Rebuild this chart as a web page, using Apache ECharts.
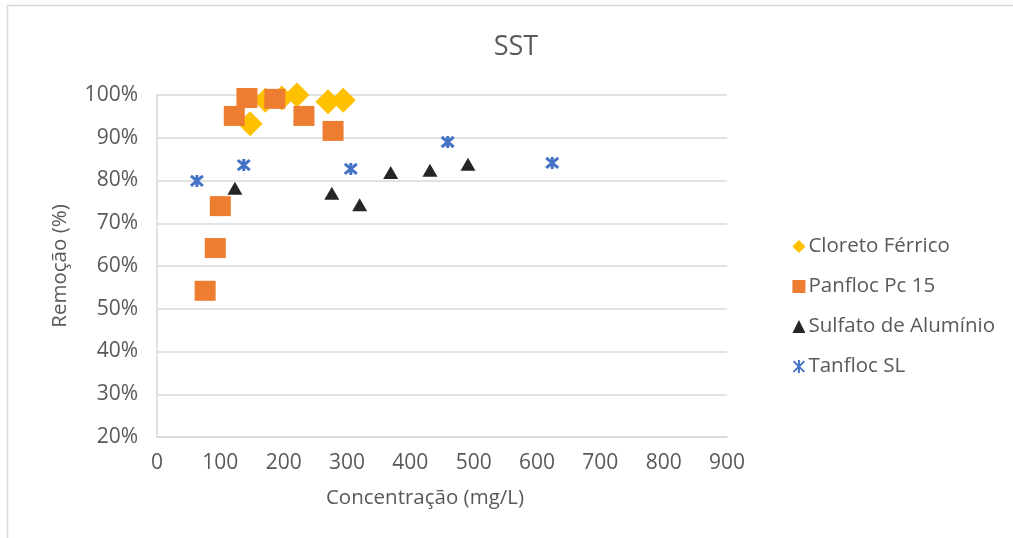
<!DOCTYPE html>
<html>
<head>
<meta charset="utf-8">
<script src="https://cdn.jsdelivr.net/npm/echarts@6/dist/echarts.min.js"></script>
<style>
  html, body { margin: 0; padding: 0; background: #fff; }
  #chart { width: 1013px; height: 538px; }
</style>
</head>
<body>
<div id="chart"></div>
<script>
// Concentration (mg/L) and removal (%) for each coagulant
const cloretoX = [147, 171, 197, 221, 270, 294];
const cloretoY = [93.3, 98.8, 99.3, 100, 98.4, 98.8];

const panflocX = [76, 92, 100, 122, 142, 186, 232, 278];
const panflocY = [54.2, 64.2, 74.0, 95.1, 99.3, 99.1, 95.1, 91.6];

const sulfatoX = [123, 276, 320, 369, 431, 491];
const sulfatoY = [78.2, 77.0, 74.3, 81.9, 82.4, 83.8];

const tanflocX = [63, 137, 306, 459, 624];
const tanflocY = [79.9, 83.6, 82.7, 89.0, 84.1];

const seriesNames = ['Cloreto Férrico', 'Panfloc Pc 15', 'Sulfato de Alumínio', 'Tanfloc SL'];
const xTicks = { min: 0, max: 900, interval: 100 };
const yTicks = { min: 20, max: 100, interval: 10 };

const pairs = (xs, ys) => xs.map((x, i) => [x, ys[i]]);

const FONT = '"Open Sans", sans-serif';
const TEXT = '#595959';
const GRID = '#d9d9d9';
const STAR = 'path://M0,0L10,10M10,0L0,10M5,-1L5,11';

const chart = echarts.init(document.getElementById('chart'));
chart.setOption({
  animation: false,
  backgroundColor: '#fff',
  textStyle: { fontFamily: FONT },
  title: {
    text: 'SST',
    left: 511, top: 29, textAlign: 'center',
    textStyle: { fontFamily: FONT, fontSize: 27, fontWeight: 'normal', color: TEXT }
  },
  graphic: [{
    type: 'rect', silent: true,
    shape: { x: 7.5, y: 5.5, width: 1200, height: 700 },
    style: { fill: 'none', stroke: GRID, lineWidth: 1.5 }
  }],
  grid: { left: 157, right: 286, top: 95, bottom: 101 },
  legend: {
    orient: 'vertical',
    left: 786, top: 231,
    itemGap: 19, itemWidth: 13, itemHeight: 13,
    textStyle: { fontFamily: FONT, fontSize: 20.5, color: TEXT, padding: [0, 0, 0, -2] },
    data: [
      { name: seriesNames[0], icon: 'diamond' },
      { name: seriesNames[1], icon: 'rect' },
      { name: seriesNames[2], icon: 'triangle' },
      { name: seriesNames[3], icon: STAR }
    ]
  },
  xAxis: {
    type: 'value',
    min: xTicks.min, max: xTicks.max, interval: xTicks.interval,
    name: 'Concentração (mg/L)', nameLocation: 'middle', nameGap: 51,
    nameTextStyle: { fontFamily: FONT, fontSize: 20.5, color: TEXT, padding: [0, 34, 0, 0] },
    axisLine: { show: true, lineStyle: { color: GRID, width: 1.5 } },
    axisTick: { show: false },
    splitLine: { show: false },
    axisLabel: { fontFamily: FONT, fontSize: 21, color: TEXT, margin: 16 }
  },
  yAxis: {
    type: 'value',
    min: yTicks.min, max: yTicks.max, interval: yTicks.interval,
    name: 'Remoção (%)', nameLocation: 'middle', nameGap: 86, nameRotate: 90,
    nameTextStyle: { fontFamily: FONT, fontSize: 20.5, color: TEXT },
    axisLine: { show: true, lineStyle: { color: GRID, width: 1.5 } },
    axisTick: { show: false },
    splitLine: { show: true, lineStyle: { color: GRID, width: 1.5 } },
    axisLabel: { fontFamily: FONT, fontSize: 21, color: TEXT, margin: 19, formatter: '{value}%' }
  },
  series: [
    {
      name: seriesNames[0], type: 'scatter', symbol: 'diamond', symbolSize: [25, 25],
      itemStyle: { color: '#FFC000', opacity: 1 },
      data: pairs(cloretoX, cloretoY)
    },
    {
      name: seriesNames[1], type: 'scatter', symbol: 'rect', symbolSize: [21, 20],
      itemStyle: { color: '#ED7D31', opacity: 1 },
      data: pairs(panflocX, panflocY)
    },
    {
      name: seriesNames[2], type: 'scatter', symbol: 'triangle', symbolSize: [15, 13],
      itemStyle: { color: '#262626', opacity: 1 },
      data: pairs(sulfatoX, sulfatoY)
    },
    {
      name: seriesNames[3], type: 'scatter', symbol: STAR, symbolSize: [12, 12],
      itemStyle: { color: 'none', borderColor: '#4472C4', borderWidth: 3, opacity: 1 },
      data: pairs(tanflocX, tanflocY)
    }
  ]
});
</script>
</body>
</html>
